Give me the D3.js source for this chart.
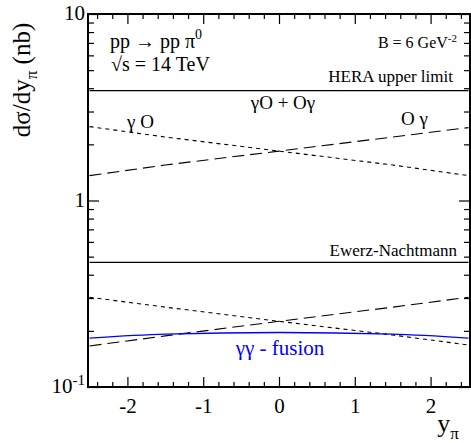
<!DOCTYPE html>
<html>
<head>
<meta charset="utf-8">
<script src="https://cdn.jsdelivr.net/npm/d3@7"></script>
<style>
body{margin:0;background:#fff;}
</style>
</head>
<body>
<svg id="chart" width="471" height="443" font-family="Liberation Serif"></svg>
<script>
// valeurs (nb)
let yPi=[-2.5,-1.5,0,1.5,2.5];
let gammaO=[2.49,2.19,1.84,1.55,1.36];      // γ O, tirets courts
let Ogamma=[1.36,1.55,1.84,2.19,2.46];      // O γ, tirets longs
let gammaOlow=[0.303,0.268,0.225,0.190,0.168];
let Ogammalow=[0.166,0.188,0.225,0.268,0.303];
let ggFusion=[0.183,0.192,0.196,0.192,0.183];
let heraLimit=3.88;
let ewerzNachtmann=0.466;
let xTicks=[-2,-1,0,1,2];

const SERIF="Liberation Serif";
let svg=d3.select("#chart");
let L=88,R=470,T=14,B=387;

let x=d3.scaleLinear().domain([-2.52,2.52]).range([L,R]);
let y=d3.scaleLog().domain([0.1,10]).range([B,T]);

let line=d3.line().x(d=>x(d[0])).y(d=>y(d[1]));
function pts(vals){return yPi.map((v,i)=>[v,vals[i]]);}

// courbes
let curves=[
 {v:gammaO,dash:"4,4",col:"#000"},
 {v:Ogamma,dash:"12,6",col:"#000"},
 {v:gammaOlow,dash:"4,4",col:"#000"},
 {v:Ogammalow,dash:"12,6",col:"#000"}
];
for(let c of curves){
  svg.append("path").attr("d",line(pts(c.v))).attr("fill","none")
   .attr("stroke",c.col).attr("stroke-width",1.1).attr("stroke-dasharray",c.dash);
}
svg.append("path").attr("d",d3.line().curve(d3.curveMonotoneX).x(d=>x(d[0])).y(d=>y(d[1]))(pts(ggFusion)))
  .attr("fill","none").attr("stroke","#0000ff").attr("stroke-width",1.3);

for(let v of [heraLimit,ewerzNachtmann]){
  svg.append("line").attr("x1",x(-2.5)).attr("x2",x(2.5)).attr("y1",y(v)).attr("y2",y(v))
   .attr("stroke","#000").attr("stroke-width",1.3);
}

// axes (ticks vers l'intérieur)
let minorX=d3.range(-24,25,2).map(d=>d/10).filter(d=>Math.abs(d%1)>0.01);
let g=svg.append("g");
g.append("g").attr("transform",`translate(0,${B})`)
 .call(d3.axisBottom(x).tickValues(xTicks).tickSize(-10).tickPadding(11).tickFormat(d=>String(d)));
g.append("g").attr("transform",`translate(0,${B})`)
 .call(d3.axisBottom(x).tickValues(minorX).tickSize(-5).tickFormat(""));
g.append("g").attr("transform",`translate(0,${T})`)
 .call(d3.axisTop(x).tickValues(xTicks).tickSize(-10).tickFormat(""));
g.append("g").attr("transform",`translate(0,${T})`)
 .call(d3.axisTop(x).tickValues(minorX).tickSize(-5).tickFormat(""));

let majorY=[0.1,1,10];
let minorY=[];
for(let dec of [0.1,1]) for(let k=2;k<=9;k++) minorY.push(dec*k);
g.append("g").attr("transform",`translate(${L},0)`)
 .call(d3.axisLeft(y).tickValues(majorY).tickSize(-11).tickFormat(""));
g.append("g").attr("transform",`translate(${L},0)`)
 .call(d3.axisLeft(y).tickValues(minorY).tickSize(-6).tickFormat(""));
g.append("g").attr("transform",`translate(${R},0)`)
 .call(d3.axisRight(y).tickValues(majorY).tickSize(-11).tickFormat(""));
g.append("g").attr("transform",`translate(${R},0)`)
 .call(d3.axisRight(y).tickValues(minorY).tickSize(-6).tickFormat(""));
g.selectAll(".domain").remove();
g.selectAll("g").attr("font-family",SERIF);
g.selectAll(".tick line").attr("stroke","#000").attr("stroke-width",1.2);
g.selectAll(".tick text").attr("font-family",SERIF).attr("font-size",21).attr("fill","#000");

svg.append("rect").attr("x",L).attr("y",T).attr("width",R-L).attr("height",B-T)
 .attr("fill","none").attr("stroke","#000").attr("stroke-width",2);

// étiquettes de l'axe y
function yLab(v,txt,sup){
  let t=svg.append("text").attr("x",L-3).attr("y",y(v)+6).attr("text-anchor","end").attr("font-size",21);
  t.append("tspan").text(txt);
  if(sup) t.append("tspan").attr("dy",-8).attr("font-size",15).text(sup);
}
yLab(10,"10");
yLab(1,"1");
yLab(0.1,"10","-1");

// titres
svg.append("text").attr("transform","translate(30,80) rotate(-90)").attr("text-anchor","middle")
 .attr("font-size",25).call(t=>{
   t.append("tspan").text("dσ/dy");
   t.append("tspan").attr("dy",7).attr("font-size",17).text("π");
   t.append("tspan").attr("dy",-7).text("  (nb)");
 });
svg.append("text").attr("x",448).attr("y",432).attr("text-anchor","middle").attr("font-size",26)
 .call(t=>{
   t.append("tspan").text("y");
   t.append("tspan").attr("dy",7).attr("font-size",17).text("π");
 });

svg.append("text").attr("x",110).attr("y",48).attr("font-size",20).call(t=>{
  t.append("tspan").text("pp → pp π");
  t.append("tspan").attr("dy",-9).attr("font-size",14).text("0");
});
svg.append("text").attr("x",111).attr("y",71).attr("font-size",20).text("√s = 14 TeV");
svg.append("text").attr("x",457).attr("y",48).attr("text-anchor","end").attr("font-size",16).call(t=>{
  t.append("tspan").text("B = 6 GeV");
  t.append("tspan").attr("dy",-6).attr("font-size",11).text("-2");
});
svg.append("text").attr("x",453).attr("y",82).attr("text-anchor","end").attr("font-size",17).text("HERA upper limit");
svg.append("text").attr("x",283).attr("y",109).attr("text-anchor","middle").attr("font-size",19).text("γO + Oγ");
svg.append("text").attr("x",127).attr("y",128).attr("font-size",19).text("γ O");
svg.append("text").attr("x",401).attr("y",125).attr("font-size",19).text("O γ");
svg.append("text").attr("x",457).attr("y",256).attr("text-anchor","end").attr("font-size",17).text("Ewerz-Nachtmann");
svg.append("text").attr("x",280).attr("y",355).attr("text-anchor","middle").attr("font-size",21)
 .attr("fill","#0000ff").text("γγ - fusion");
</script>
</body>
</html>
